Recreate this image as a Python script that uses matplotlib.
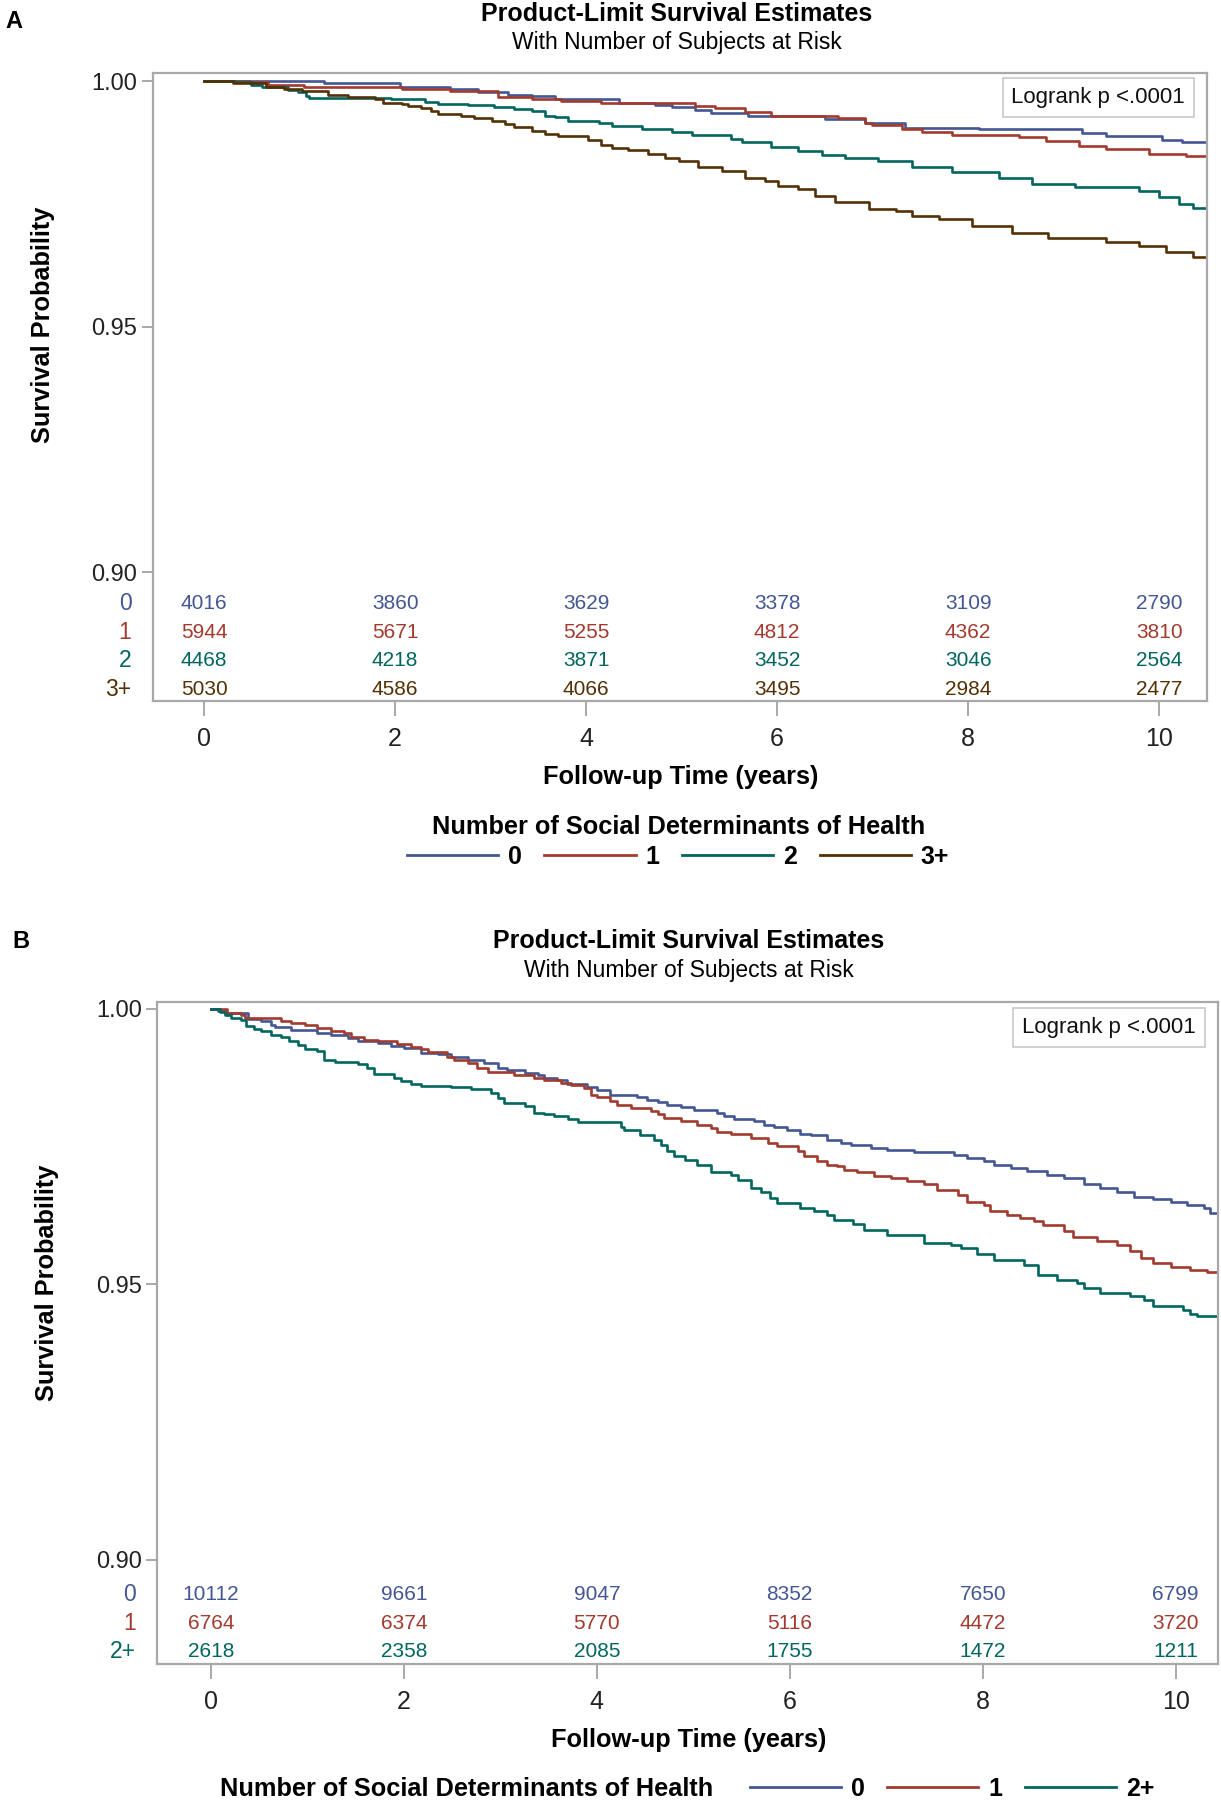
import matplotlib
matplotlib.use("Agg")
import matplotlib.pyplot as plt
from matplotlib.lines import Line2D

# ---- data ----
# Panel A: 4 groups
a_groups = ["0", "1", "2", "3+"]
a0_t = [0, 1.26, 2.05, 2.57, 2.87, 3.18, 3.43, 3.67, 4.34, 4.72, 4.90, 5.14, 5.31, 5.70, 6.50, 6.92,
        7.34, 8.11, 9.19, 9.44, 10.03, 10.24, 10.50]
a0_s = [1.0, 0.9996, 0.9988, 0.9984, 0.9978, 0.9973, 0.9970, 0.9964, 0.9957, 0.9952, 0.9947, 0.9942,
        0.9935, 0.9930, 0.9923, 0.9916, 0.9906, 0.9903, 0.9896, 0.9889, 0.9880, 0.9876, 0.9876]
a1_t = [0, 0.48, 0.67, 1.05, 2.07, 2.57, 3.08, 3.43, 3.74, 4.16, 5.14, 5.35, 5.66, 5.94, 6.64, 6.92,
        6.99, 7.31, 7.52, 7.83, 8.53, 8.81, 9.16, 9.44, 9.89, 10.28, 10.50]
a1_s = [1.0, 0.9998, 0.9993, 0.9989, 0.9984, 0.9980, 0.9969, 0.9964, 0.9961, 0.9956, 0.9949, 0.9945,
        0.9937, 0.9930, 0.9925, 0.9916, 0.9912, 0.9904, 0.9898, 0.9891, 0.9886, 0.9879, 0.9869, 0.9862,
        0.9853, 0.9849, 0.9849]
a2_t = [0, 0.32, 0.49, 0.61, 0.88, 0.98, 1.07, 1.10, 1.96, 2.31, 2.45, 2.76, 3.04, 3.25, 3.43, 3.57,
        3.67, 3.81, 4.13, 4.27, 4.58, 4.90, 5.11, 5.52, 5.63, 5.94, 6.22, 6.47, 6.71, 7.06, 7.41, 7.83,
        8.32, 8.67, 9.12, 9.79, 10.00, 10.21, 10.35, 10.50]
a2_s = [1.0, 0.9998, 0.9993, 0.9989, 0.9983, 0.9978, 0.9971, 0.9967, 0.9964, 0.9959, 0.9955, 0.9952,
        0.9947, 0.9944, 0.9940, 0.9930, 0.9927, 0.9920, 0.9916, 0.9910, 0.9903, 0.9898, 0.9891, 0.9883,
        0.9876, 0.9866, 0.9859, 0.9851, 0.9844, 0.9837, 0.9825, 0.9815, 0.9803, 0.9791, 0.9785, 0.9777,
        0.9764, 0.9750, 0.9743, 0.9743]
a3_t = [0, 0.30, 0.65, 0.84, 1.02, 1.30, 1.51, 1.79, 1.87, 2.07, 2.14, 2.27, 2.38, 2.45, 2.69, 2.83,
        3.01, 3.15, 3.25, 3.43, 3.57, 3.71, 4.02, 4.16, 4.27, 4.44, 4.65, 4.83, 4.97, 5.17, 5.42, 5.66,
        5.87, 6.01, 6.22, 6.40, 6.61, 6.96, 7.24, 7.41, 7.69, 8.04, 8.46, 8.84, 9.44, 9.79, 10.07, 10.35,
        10.50]
a3_s = [1.0, 0.9996, 0.9988, 0.9984, 0.9981, 0.9973, 0.9969, 0.9964, 0.9957, 0.9954, 0.9949, 0.9945,
        0.9939, 0.9933, 0.9930, 0.9925, 0.9920, 0.9914, 0.9908, 0.9900, 0.9893, 0.9888, 0.9881, 0.9871,
        0.9864, 0.9860, 0.9852, 0.9844, 0.9837, 0.9825, 0.9817, 0.9804, 0.9798, 0.9787, 0.9781, 0.9767,
        0.9754, 0.9740, 0.9737, 0.9726, 0.9720, 0.9706, 0.9692, 0.9682, 0.9672, 0.9665, 0.9652, 0.9642,
        0.9642]
a_times = [0, 2, 4, 6, 8, 10]
a_risk = [[4016, 3860, 3629, 3378, 3109, 2790],
          [5944, 5671, 5255, 4812, 4362, 3810],
          [4468, 4218, 3871, 3452, 3046, 2564],
          [5030, 4586, 4066, 3495, 2984, 2477]]

# Panel B: 3 groups
b_groups = ["0", "1", "2+"]
b0_t = [0, 0.07, 0.14, 0.38, 0.52, 0.62, 0.66, 0.83, 1.10, 1.24, 1.42, 1.52, 1.73, 1.87, 2.00, 2.18,
        2.35, 2.49, 2.66, 2.83, 2.97, 3.07, 3.25, 3.39, 3.45, 3.59, 3.69, 3.90, 4.00, 4.14, 4.42, 4.52,
        4.63, 4.73, 4.87, 5.01, 5.25, 5.32, 5.42, 5.63, 5.73, 5.84, 5.97, 6.11, 6.22, 6.39, 6.53, 6.63,
        6.84, 7.01, 7.29, 7.70, 7.84, 8.01, 8.12, 8.29, 8.46, 8.67, 8.84, 9.05, 9.22, 9.39, 9.57, 9.77,
        9.95, 10.12, 10.29, 10.36, 10.44]
b0_s = [1.0, 0.9996, 0.9992, 0.9982, 0.9978, 0.9971, 0.9966, 0.9962, 0.9956, 0.9952, 0.9947, 0.9942,
        0.9938, 0.9933, 0.9929, 0.9920, 0.9917, 0.9912, 0.9906, 0.9901, 0.9892, 0.9889, 0.9883, 0.9879,
        0.9874, 0.9871, 0.9863, 0.9857, 0.9853, 0.9844, 0.9839, 0.9835, 0.9831, 0.9826, 0.9821, 0.9817,
        0.9811, 0.9805, 0.9800, 0.9796, 0.9789, 0.9785, 0.9779, 0.9773, 0.9771, 0.9762, 0.9756, 0.9753,
        0.9747, 0.9744, 0.9740, 0.9735, 0.9729, 0.9723, 0.9717, 0.9711, 0.9705, 0.9699, 0.9693, 0.9681,
        0.9675, 0.9667, 0.9659, 0.9655, 0.9650, 0.9644, 0.9638, 0.9629, 0.9629]
b1_t = [0, 0.17, 0.31, 0.35, 0.73, 0.83, 0.97, 1.10, 1.24, 1.38, 1.45, 1.59, 1.73, 1.93, 2.07, 2.18,
        2.25, 2.45, 2.52, 2.66, 2.76, 2.87, 3.14, 3.35, 3.45, 3.63, 3.73, 3.87, 3.94, 4.00, 4.14, 4.21,
        4.35, 4.56, 4.63, 4.70, 4.87, 5.04, 5.18, 5.25, 5.39, 5.60, 5.77, 5.87, 6.08, 6.15, 6.28, 6.39,
        6.49, 6.56, 6.70, 6.87, 7.05, 7.22, 7.39, 7.53, 7.74, 7.84, 8.01, 8.08, 8.25, 8.39, 8.53, 8.63,
        8.84, 8.94, 9.18, 9.39, 9.53, 9.64, 9.77, 9.95, 10.15, 10.33, 10.44]
b1_s = [1.0, 0.9992, 0.9988, 0.9983, 0.9978, 0.9974, 0.9970, 0.9965, 0.9960, 0.9956, 0.9948, 0.9944,
        0.9941, 0.9936, 0.9930, 0.9926, 0.9921, 0.9913, 0.9907, 0.9901, 0.9892, 0.9885, 0.9880, 0.9874,
        0.9871, 0.9865, 0.9861, 0.9856, 0.9844, 0.9839, 0.9833, 0.9826, 0.9820, 0.9814, 0.9808, 0.9802,
        0.9796, 0.9789, 0.9783, 0.9777, 0.9773, 0.9765, 0.9756, 0.9750, 0.9741, 0.9732, 0.9723, 0.9717,
        0.9714, 0.9708, 0.9704, 0.9696, 0.9693, 0.9687, 0.9681, 0.9671, 0.9662, 0.9650, 0.9644, 0.9632,
        0.9626, 0.9620, 0.9614, 0.9608, 0.9596, 0.9585, 0.9578, 0.9572, 0.9560, 0.9547, 0.9538, 0.9532,
        0.9526, 0.9522, 0.9522]
b2_t = [0, 0.09, 0.14, 0.21, 0.31, 0.36, 0.45, 0.52, 0.62, 0.73, 0.81, 0.90, 0.97, 1.10, 1.17, 1.28,
        1.52, 1.62, 1.69, 1.90, 1.97, 2.07, 2.18, 2.49, 2.69, 2.90, 2.97, 3.04, 3.25, 3.35, 3.45, 3.56,
        3.70, 3.80, 4.25, 4.28, 4.45, 4.59, 4.66, 4.73, 4.80, 4.91, 5.04, 5.18, 5.39, 5.46, 5.60, 5.70,
        5.80, 5.87, 6.11, 6.25, 6.39, 6.46, 6.66, 6.77, 7.01, 7.39, 7.67, 7.77, 7.94, 8.12, 8.43, 8.57,
        8.77, 8.98, 9.05, 9.22, 9.53, 9.67, 9.77, 10.08, 10.15, 10.22, 10.44]
b2_s = [1.0, 0.9994, 0.9988, 0.9984, 0.9980, 0.9968, 0.9964, 0.9959, 0.9953, 0.9948, 0.9941, 0.9935,
        0.9927, 0.9923, 0.9907, 0.9904, 0.9900, 0.9892, 0.9881, 0.9874, 0.9868, 0.9863, 0.9859, 0.9857,
        0.9855, 0.9847, 0.9838, 0.9829, 0.9823, 0.9811, 0.9808, 0.9805, 0.9800, 0.9794, 0.9786, 0.9780,
        0.9771, 0.9762, 0.9753, 0.9741, 0.9732, 0.9725, 0.9717, 0.9704, 0.9699, 0.9690, 0.9675, 0.9667,
        0.9656, 0.9647, 0.9639, 0.9632, 0.9625, 0.9617, 0.9609, 0.9599, 0.9590, 0.9575, 0.9572, 0.9566,
        0.9554, 0.9544, 0.9535, 0.9517, 0.9508, 0.9502, 0.9493, 0.9484, 0.9478, 0.9472, 0.9460, 0.9454,
        0.9446, 0.9442, 0.9442]
b_times = [0, 2, 4, 6, 8, 10]
b_risk = [[10112, 9661, 9047, 8352, 7650, 6799],
          [6764, 6374, 5770, 5116, 4472, 3720],
          [2618, 2358, 2085, 1755, 1472, 1211]]

colors = ["#445694", "#A23A2E", "#01665E", "#543005"]
plt.rcParams["font.family"] = ["Liberation Sans", "DejaVu Sans"]

fig = plt.figure(figsize=(12.21, 18), dpi=100)


def km_panel(rect, curves, groups, times, risk, xlim, ylim, rows_y):
    ax = fig.add_axes(rect)
    for (t, s), c in zip(curves, colors):
        ax.step(t, s, where="post", color=c, lw=1.9)
    ax.set_xlim(*xlim)
    ax.set_ylim(*ylim)
    ax.set_yticks([0.90, 0.95, 1.00])
    ax.set_yticklabels(["0.90", "0.95", "1.00"])
    ax.set_xticks(times)
    for sp in ax.spines.values():
        sp.set_color("#a8a8a8")
        sp.set_linewidth(1.6)
    ax.tick_params(axis="y", colors="#a8a8a8", labelcolor="#222222", length=8, width=1.4,
                   labelsize=17, pad=3)
    ax.tick_params(axis="x", colors="#a8a8a8", labelcolor="#222222", length=11, width=1.4,
                   labelsize=18, pad=8)
    # number at risk table inside the frame
    trans = ax.get_xaxis_transform()
    for i, row in enumerate(risk):
        for tt, n in zip(times, row):
            ax.text(tt, rows_y[i], str(n), transform=trans, ha="center", va="center",
                    color=colors[i], fontsize=15)
        ax.text(-0.02, rows_y[i], groups[i], transform=ax.transAxes, ha="right", va="center",
                color=colors[i], fontsize=16.5)
    ax.text(0.897, 0.961, "Logrank p <.0001", transform=ax.transAxes, ha="center", va="center",
            fontsize=16, color="#111111",
            bbox=dict(boxstyle="square,pad=0.4", fc="white", ec="#c8c8c8", lw=1.2))
    return ax


axA = km_panel([0.1249, 0.6106, 0.8636, 0.3487],
               [(a0_t, a0_s), (a1_t, a1_s), (a2_t, a2_s), (a3_t, a3_s)],
               a_groups, a_times, a_risk, (-0.54, 10.50), (0.8738, 1.00167),
               [0.1545, 0.1094, 0.0637, 0.0186])
axB = km_panel([0.1286, 0.0756, 0.8690, 0.3680],
               [(b0_t, b0_s), (b1_t, b1_s), (b2_t, b2_s)],
               b_groups, b_times, b_risk, (-0.56, 10.44), (0.8811, 1.0013),
               [0.1042, 0.0614, 0.0186])

H = 1800.0
W = 1221.0

# panel letters and titles
fig.text(14 / W, 1 - 21 / H, "A", fontsize=17, fontweight="bold", ha="center", va="center")
fig.text(21 / W, 1 - 941 / H, "B", fontsize=17, fontweight="bold", ha="center", va="center")
for cx, ty, sy in [(677, 14, 42), (689, 941, 970)]:
    fig.text(cx / W, 1 - ty / H, "Product-Limit Survival Estimates",
             fontsize=18, fontweight="bold", ha="center", va="center")
    fig.text(cx / W, 1 - sy / H, "With Number of Subjects at Risk",
             fontsize=16.5, ha="center", va="center")

# axis labels
for x, y in [(43, 325), (47, 1283)]:
    fig.text(x / W, 1 - y / H, "Survival Probability", fontsize=18.3,
             fontweight="bold", rotation=90, ha="center", va="center")
for x, y in [(681, 777), (689, 1740)]:
    fig.text(x / W, 1 - y / H, "Follow-up Time (years)", fontsize=18.3,
             fontweight="bold", ha="center", va="center")

# legends
leg_kw = dict(frameon=False, handlelength=3.65, handletextpad=0.4, columnspacing=0.9,
              borderpad=0.0, prop=dict(size=18, weight="bold"))
fig.text(679 / W, 1 - 827 / H, "Number of Social Determinants of Health",
         fontsize=18.3, fontweight="bold", ha="center", va="center")
hA = [Line2D([], [], color=c, lw=2) for c in colors]
fig.legend(hA, a_groups, ncol=4, loc="center", bbox_to_anchor=(678 / W, 1 - 857 / H), **leg_kw)

fig.text(467 / W, 1 - 1789 / H, "Number of Social Determinants of Health",
         fontsize=18.3, fontweight="bold", ha="center", va="center")
hB = [Line2D([], [], color=c, lw=2) for c in colors[:3]]
fig.legend(hB, b_groups, ncol=3, loc="center", bbox_to_anchor=(952 / W, 1 - 1789 / H), **leg_kw)

fig.savefig("out.png", dpi=100)
